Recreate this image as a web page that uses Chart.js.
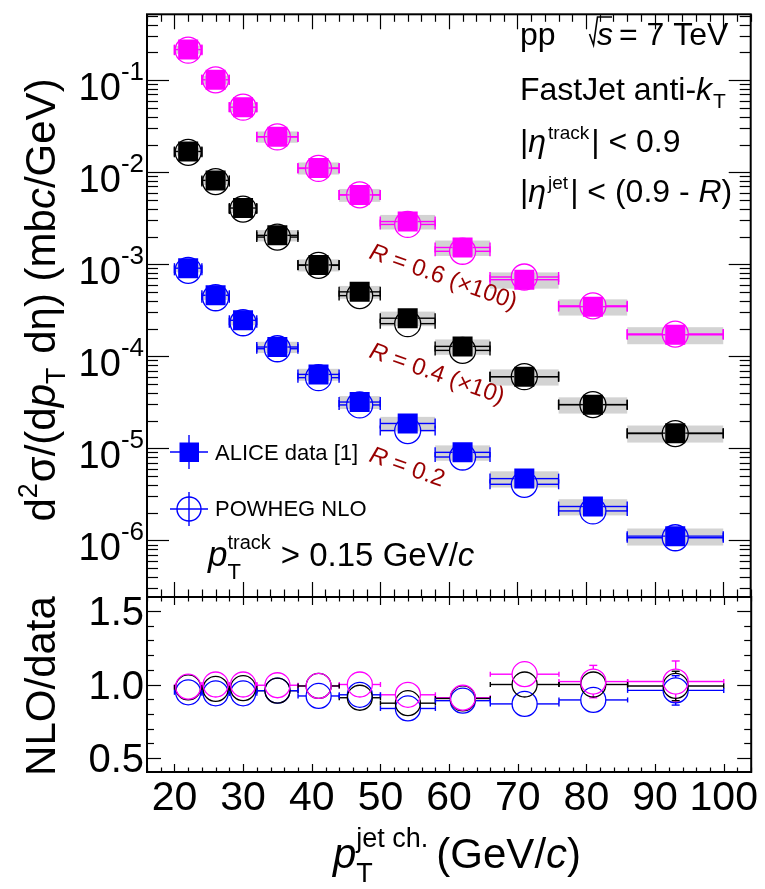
<!DOCTYPE html>
<html>
<head>
<meta charset="utf-8">
<script src="https://cdn.jsdelivr.net/npm/chart.js@4.4.1/dist/chart.umd.min.js"></script>
<style>
html,body{margin:0;padding:0;background:#ffffff;}
#wrap{position:relative;width:765px;height:889px;overflow:hidden;background:#fff;}
canvas{position:absolute;left:0;top:0;}
</style>
</head>
<body>
<div id="wrap"><canvas id="topc" width="765" height="889"></canvas><canvas id="botc" width="765" height="889"></canvas></div>
<script>
// ---------------- data ----------------
const binLow    = [20, 24, 28, 32, 38, 44, 50, 58, 66, 76, 86];
const binHigh   = [24, 28, 32, 38, 44, 50, 58, 66, 76, 86, 100];
const binCenter = [22, 26, 30, 35, 41, 47, 54, 62, 71, 81, 93];

// ALICE data, mb c/GeV (R=0.6 scaled x100, R=0.4 scaled x10)
const dataR06 = [0.215, 0.101, 0.0509, 0.0243, 0.0111, 0.00567, 0.00291, 0.00152, 0.000679, 0.000346, 0.000171];
const dataR04 = [0.0168, 0.00815, 0.00408, 0.00206, 0.000982, 0.000501, 0.000259, 0.000128, 6.0e-5, 2.98e-5, 1.46e-5];
const dataR02 = [0.000906, 0.00046, 0.000246, 0.000126, 6.35e-5, 3.18e-5, 1.86e-5, 9.03e-6, 4.68e-6, 2.33e-6, 1.11e-6];

// POWHEG NLO
const nloR06 = [0.2118, 0.101, 0.0509, 0.02418, 0.01099, 0.00567, 0.002706, 0.001383, 0.0007265, 0.0003529, 0.0001744];
const nloR04 = [0.01646, 0.007906, 0.003978, 0.001973, 0.0009722, 0.0004559, 0.0002261, 0.0001158, 6.0e-5, 2.98e-5, 1.445e-5];
const nloR02 = [0.000858, 0.0004324, 0.0002312, 0.0001207, 5.855e-5, 2.957e-5, 1.557e-5, 8.037e-6, 4.062e-6, 2.085e-6, 1.066e-6];

// NLO/data ratios and their uncertainties
const ratioR06 = [0.985, 1.0, 1.0, 0.995, 0.99, 1.0, 0.93, 0.91, 1.07, 1.02, 1.02];
const ratioR04 = [0.98, 0.97, 0.975, 0.958, 0.99, 0.91, 0.873, 0.905, 1.0, 1.0, 0.99];
const ratioR02 = [0.947, 0.94, 0.94, 0.958, 0.922, 0.93, 0.837, 0.89, 0.868, 0.895, 0.96];
const ratioErrR06 = [0.02, 0.02, 0.02, 0.02, 0.03, 0.03, 0.04, 0.05, 0.07, 0.11, 0.14];
const ratioErrR04 = [0.02, 0.02, 0.02, 0.02, 0.03, 0.03, 0.04, 0.05, 0.06, 0.08, 0.10];
const ratioErrR02 = [0.02, 0.02, 0.02, 0.02, 0.03, 0.03, 0.04, 0.05, 0.06, 0.07, 0.10];

// relative uncertainties of the data (systematic boxes, statistical bars)
const sysRel  = [0.10, 0.11, 0.12, 0.14, 0.15, 0.16, 0.18, 0.19, 0.20, 0.20, 0.21];
const statRel = [0.01, 0.01, 0.01, 0.015, 0.02, 0.025, 0.03, 0.04, 0.05, 0.07, 0.09];

// tick labels
const xTickValues = [20, 30, 40, 50, 60, 70, 80, 90, 100];
const xTickLabels = ['20', '30', '40', '50', '60', '70', '80', '90', '100'];
const yTickValues = [1e-6, 1e-5, 1e-4, 1e-3, 1e-2, 1e-1];
const yTickExps   = ['-6', '-5', '-4', '-3', '-2', '-1'];
const ratioTickValues = [0.5, 1.0, 1.5];
const ratioTickLabels = ['0.5', '1.0', '1.5'];

// ---------------- styles ----------------
const FF = '"Liberation Sans", Arial, Helvetica, sans-serif';
const MAGENTA = '#ff00ff', BLACK = '#000000', BLUE = '#0000ff';
const BOX = '#d3d3d3';
const RED = '#990000';
const SQ_HALF = 10, CIRC_R = 13, RATIO_R = 12.5;

const series = [
  {name: 'R06', data: dataR06, nlo: nloR06, ratio: ratioR06, rerr: ratioErrR06, color: MAGENTA},
  {name: 'R04', data: dataR04, nlo: nloR04, ratio: ratioR04, rerr: ratioErrR04, color: BLACK},
  {name: 'R02', data: dataR02, nlo: nloR02, ratio: ratioR02, rerr: ratioErrR02, color: BLUE}
];

// ---------------- helpers ----------------
function fnt(p) { return (p.it ? 'italic ' : '') + p.s + 'px ' + FF; }
function layoutRich(ctx, parts) {
  let x = 0, prevStart = 0, prevEnd = 0; const items = [];
  parts.forEach(p => {
    ctx.font = fnt(p);
    const w = ctx.measureText(p.t).width;
    const sx = (p.back ? prevStart : x) + (p.pre || 0);
    items.push({p, sx, w});
    const end = sx + w + (p.gap || 0);
    x = p.back ? Math.max(prevEnd, end) : end;
    prevStart = sx; prevEnd = x;
  });
  return {items, width: x};
}
function drawRich(ctx, parts, x, y, opt) {
  opt = opt || {};
  ctx.save();
  ctx.translate(x, y);
  if (opt.rot) ctx.rotate(opt.rot);
  const lay = layoutRich(ctx, parts);
  const ox = opt.align === 'center' ? -lay.width / 2 : (opt.align === 'right' ? -lay.width : 0);
  ctx.fillStyle = opt.color || '#000';
  ctx.textAlign = 'left';
  ctx.textBaseline = 'alphabetic';
  lay.items.forEach(it => { ctx.font = fnt(it.p); ctx.fillText(it.p.t, ox + it.sx, it.p.dy || 0); });
  ctx.restore();
  return lay;
}
function line(ctx, x0, y0, x1, y1) { ctx.beginPath(); ctx.moveTo(x0, y0); ctx.lineTo(x1, y1); ctx.stroke(); }
// horizontal error bar with end caps, leaving a gap where the marker sits
function hbar(ctx, x0, x1, pc, py, gap, cap) {
  if (pc - gap > x0) line(ctx, x0, py, pc - gap, py);
  if (pc + gap < x1) line(ctx, pc + gap, py, x1, py);
  line(ctx, x0, py - cap, x0, py + cap);
  line(ctx, x1, py - cap, x1, py + cap);
}
// vertical error bar drawn only outside the marker
function vbar(ctx, pc, py, yt, yb, gap, cap) {
  if (yt < py - gap) { line(ctx, pc, py - gap, pc, yt); if (cap) line(ctx, pc - cap, yt, pc + cap, yt); }
  if (yb > py + gap) { line(ctx, pc, py + gap, pc, yb); if (cap) line(ctx, pc - cap, yb, pc + cap, yb); }
}
function xTicks(ctx, xs, yEdge, dir, major, minor) {
  for (let v = 16; v <= 104; v += 2) {
    const px = Math.round(xs.getPixelForValue(v)) + 0.5;
    const L = (v % 10 === 0) ? major : minor;
    line(ctx, px, yEdge, px, yEdge + dir * L);
  }
}

// ---------------- top panel ----------------
const topPlugin = {
  id: 'topPanel',
  beforeDatasetsDraw(chart) {
    const {ctx, scales: {x, y}} = chart;
    ctx.save();
    series.forEach(s => {
      s.data.forEach((v, i) => {
        const x0 = x.getPixelForValue(binLow[i]), x1 = x.getPixelForValue(binHigh[i]);
        const y0 = y.getPixelForValue(v * (1 + sysRel[i])), y1 = y.getPixelForValue(v * (1 - sysRel[i]));
        ctx.fillStyle = BOX;
        ctx.fillRect(x0, y0, x1 - x0, y1 - y0);
      });
    });
    series.forEach(s => {
      ctx.strokeStyle = s.color; ctx.lineWidth = 1.4;
      s.data.forEach((v, i) => {
        const x0 = x.getPixelForValue(binLow[i]), x1 = x.getPixelForValue(binHigh[i]);
        const pc = x.getPixelForValue(binCenter[i]);
        const pd = y.getPixelForValue(v), pn = y.getPixelForValue(s.nlo[i]);
        hbar(ctx, x0, x1, pc, pd, SQ_HALF, 5);
        hbar(ctx, x0, x1, pc, pn, CIRC_R, 5);
        vbar(ctx, pc, pd, y.getPixelForValue(v * (1 + statRel[i])), y.getPixelForValue(v * (1 - statRel[i])), SQ_HALF, 0);
      });
    });
    ctx.restore();
  },
  afterDraw(chart) {
    const {ctx, chartArea: a, scales: {x, y}} = chart;
    ctx.save();
    ctx.strokeStyle = '#000'; ctx.lineWidth = 1.2;
    for (let e = -7; e <= 0; e++) {
      for (let m = 1; m <= 9; m++) {
        const v = m * Math.pow(10, e);
        if (v < y.min || v > y.max) continue;
        const py = Math.round(y.getPixelForValue(v)) + 0.5;
        const L = (m === 1) ? 22 : 11;
        line(ctx, a.left, py, a.left + L, py);
        line(ctx, a.right, py, a.right - L, py);
      }
    }
    xTicks(ctx, x, a.bottom, -1, 15, 7.5);
    xTicks(ctx, x, a.top, 1, 15, 7.5);
    ctx.lineWidth = 2;
    ctx.strokeRect(a.left, a.top, a.right - a.left, a.bottom - a.top);
    ctx.restore();

    // y tick labels
    yTickValues.forEach((v, i) => {
      const py = y.getPixelForValue(v);
      drawRich(ctx, [{t: '10', s: 38}, {t: yTickExps[i], s: 26, dy: -20}], 144, py + 20, {align: 'right'});
    });

    // y title (centred on the axis)
    drawRich(ctx, [
      {t: 'd', s: 42}, {t: '2', s: 27, dy: -18, gap: 1}, {t: 'σ/(d', s: 42}, {t: 'p', s: 42, it: true},
      {t: 'T', s: 27, dy: 10, gap: 2}, {t: ' dη) (mb', s: 42}, {t: 'c', s: 42, it: true}, {t: '/GeV)', s: 42}
    ], 55, 300, {align: 'center', rot: -Math.PI / 2});

    // header text
    ctx.save();
    drawRich(ctx, [{t: 'pp', s: 32}], 520, 45);
    ctx.strokeStyle = '#000'; ctx.lineWidth = 1.6;
    ctx.beginPath(); ctx.moveTo(589.5, 34); ctx.lineTo(593.5, 45); ctx.lineTo(597.5, 17); ctx.lineTo(612, 17); ctx.stroke();
    ctx.restore();
    drawRich(ctx, [{t: 's', s: 32, it: true}], 597, 45);
    drawRich(ctx, [{t: '= 7 TeV', s: 32}], 619, 45);
    drawRich(ctx, [{t: 'FastJet anti-', s: 32}, {t: 'k', s: 32, it: true, gap: 1}, {t: 'T', s: 21, dy: 8}], 520, 100);
    drawRich(ctx, [{t: '|', s: 32}, {t: 'η', s: 32, it: true, gap: 2}, {t: 'track', s: 19, dy: -13, gap: 2}, {t: '| < 0.9', s: 32}], 520, 152);
    drawRich(ctx, [{t: '|', s: 32}, {t: 'η', s: 32, it: true, gap: 2}, {t: 'jet', s: 19, dy: -13, gap: 2}, {t: '| < (0.9 - ', s: 32}, {t: 'R', s: 32, it: true}, {t: ')', s: 32}], 520, 202);

    // R labels
    const rot = 19.5 * Math.PI / 180;
    drawRich(ctx, [{t: 'R', s: 24, it: true}, {t: ' = 0.6 (×100)', s: 24}], 368, 258, {rot, color: RED});
    drawRich(ctx, [{t: 'R', s: 24, it: true}, {t: ' = 0.4 (×10)', s: 24}], 368, 357, {rot, color: RED});
    drawRich(ctx, [{t: 'R', s: 24, it: true}, {t: ' = 0.2', s: 24}], 368, 461, {rot, color: RED});

    // legend
    ctx.save();
    ctx.strokeStyle = BLUE; ctx.fillStyle = BLUE; ctx.lineWidth = 1.4;
    line(ctx, 170, 452, 208, 452); line(ctx, 189, 435, 189, 469);
    ctx.fillRect(179.5, 442.5, 19.5, 19.5);
    line(ctx, 170, 509, 208, 509); line(ctx, 189, 492, 189, 526);
    ctx.beginPath(); ctx.arc(189, 509, 12, 0, Math.PI * 2); ctx.stroke();
    ctx.restore();
    drawRich(ctx, [{t: 'ALICE data [1]', s: 22}], 215, 460);
    drawRich(ctx, [{t: 'POWHEG NLO', s: 22}], 215, 516);

    // track pT cut
    drawRich(ctx, [{t: 'p', s: 35, it: true}, {t: 'T', s: 22, dy: 13}, {t: 'track', s: 20, dy: -17, back: true, gap: 10},
      {t: '> 0.15 GeV/', s: 33}, {t: 'c', s: 33, it: true}], 208, 566);
  }
};

const topDatasets = [];
series.forEach(s => {
  topDatasets.push({
    label: s.name + ' NLO', data: binCenter.map((c, i) => ({x: c, y: s.nlo[i]})),
    pointStyle: 'circle', pointRadius: CIRC_R, backgroundColor: 'rgba(0,0,0,0)', borderColor: s.color, borderWidth: 1.3
  });
  topDatasets.push({
    label: s.name + ' data', data: binCenter.map((c, i) => ({x: c, y: s.data[i]})),
    pointStyle: 'rect', pointRadius: SQ_HALF * Math.SQRT2, backgroundColor: s.color, borderColor: s.color, borderWidth: 0
  });
});

new Chart(document.getElementById('topc'), {
  type: 'scatter',
  data: {datasets: topDatasets},
  options: {
    responsive: false, animation: false, devicePixelRatio: 1, events: [],
    layout: {padding: {left: 147, right: 8, top: 6, bottom: 292}},
    plugins: {legend: {display: false}, tooltip: {enabled: false}},
    scales: {
      x: {type: 'linear', min: 16, max: 104, display: false},
      y: {type: 'logarithmic', min: 2.42e-7, max: 0.52, display: false}
    }
  },
  plugins: [topPlugin]
});

// ---------------- ratio panel ----------------
const botPlugin = {
  id: 'ratioPanel',
  beforeDatasetsDraw(chart) {
    const {ctx, scales: {x, y}} = chart;
    ctx.save();
    series.forEach(s => {
      ctx.strokeStyle = s.color; ctx.lineWidth = 1.4;
      s.ratio.forEach((r, i) => {
        const x0 = x.getPixelForValue(binLow[i]), x1 = x.getPixelForValue(binHigh[i]);
        const pc = x.getPixelForValue(binCenter[i]);
        const py = y.getPixelForValue(r);
        hbar(ctx, x0, x1, pc, py, RATIO_R, 2.5);
        vbar(ctx, pc, py, y.getPixelForValue(r + s.rerr[i]), y.getPixelForValue(r - s.rerr[i]), RATIO_R, 4);
      });
    });
    ctx.restore();
  },
  afterDraw(chart) {
    const {ctx, chartArea: a, scales: {x, y}} = chart;
    ctx.save();
    ctx.strokeStyle = '#000'; ctx.lineWidth = 1.2;
    for (let k = 4; k <= 16; k++) {
      const v = k / 10;
      if (v < y.min || v > y.max) continue;
      const py = Math.round(y.getPixelForValue(v)) + 0.5;
      const L = (k % 5 === 0) ? 14 : 7;
      line(ctx, a.left, py, a.left + L, py);
      line(ctx, a.right, py, a.right - L, py);
    }
    xTicks(ctx, x, a.bottom, -1, 8, 4.5);
    xTicks(ctx, x, a.top, 1, 8, 4.5);
    ctx.lineWidth = 2;
    ctx.strokeRect(a.left, a.top, a.right - a.left, a.bottom - a.top);
    ctx.restore();

    ratioTickValues.forEach((v, i) => {
      drawRich(ctx, [{t: ratioTickLabels[i], s: 40}], 144, y.getPixelForValue(v) + 14, {align: 'right'});
    });
    xTickValues.forEach((v, i) => {
      drawRich(ctx, [{t: xTickLabels[i], s: 41}], x.getPixelForValue(v), 810, {align: 'center'});
    });
    drawRich(ctx, [{t: 'NLO/data', s: 42}], 55, 686, {align: 'center', rot: -Math.PI / 2});
    drawRich(ctx, [{t: 'p', s: 42, it: true}, {t: 'T', s: 27, dy: 14}, {t: 'jet ch.', s: 27, dy: -21, back: true, gap: 8},
      {t: '(GeV/', s: 42}, {t: 'c', s: 42, it: true}, {t: ')', s: 42}], 457, 868, {align: 'center'});
  }
};

const botDatasets = series.map(s => ({
  label: s.name + ' ratio', data: binCenter.map((c, i) => ({x: c, y: s.ratio[i]})),
  pointStyle: 'circle', pointRadius: RATIO_R, backgroundColor: 'rgba(0,0,0,0)', borderColor: s.color, borderWidth: 1.3
}));

new Chart(document.getElementById('botc'), {
  type: 'scatter',
  data: {datasets: botDatasets},
  options: {
    responsive: false, animation: false, devicePixelRatio: 1, events: [],
    layout: {padding: {left: 147, right: 8, top: 597, bottom: 117}},
    plugins: {legend: {display: false}, tooltip: {enabled: false}},
    scales: {
      x: {type: 'linear', min: 16, max: 104, display: false},
      y: {type: 'linear', min: 0.405, max: 1.595, display: false}
    }
  },
  plugins: [botPlugin]
});
</script>
</body>
</html>
